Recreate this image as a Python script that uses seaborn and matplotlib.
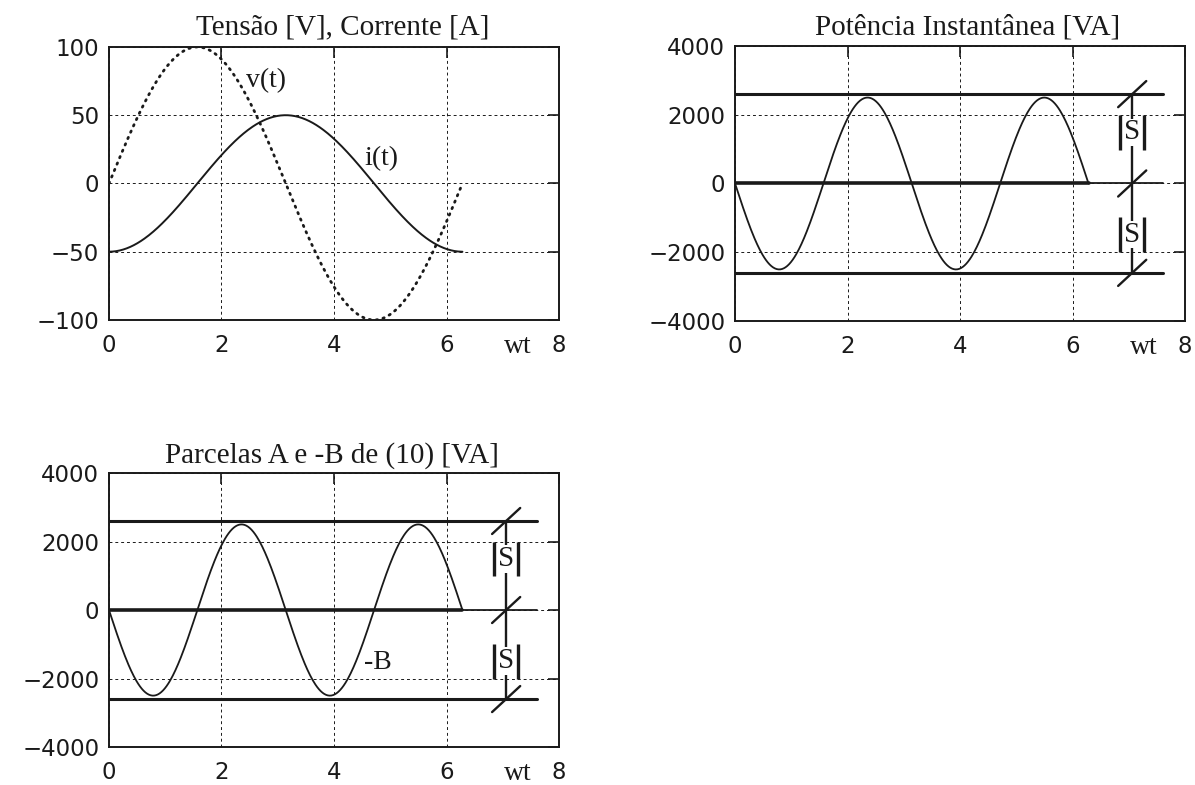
import numpy as np
import pandas as pd
import matplotlib
matplotlib.use("Agg")
import matplotlib.pyplot as plt
import matplotlib.transforms as mtransforms
import seaborn as sns

# ---- data ----
V_PEAK = 100.0          # v(t) amplitude [V]
I_PEAK = 50.0           # i(t) amplitude [A]
P_PEAK = 2500.0         # instantaneous power amplitude [VA]
S_MAG = 2600.0          # |S| reference level [VA]
S_LINE_END = 7.6        # horizontal reference lines extend to wt = 7.6
S_MARK_X = 7.06         # position of the |S| dimension marker

titles = ["Tensão [V], Corrente [A]", "Potência Instantânea [VA]",
          "Parcelas A e -B de (10) [VA]"]
title_x = [4.15, 4.14, 3.97]
title_gap_px = [13, 12, 10]
xticks = [0, 2, 4, 6, 8]
yticks_vi = [-100, -50, 0, 50, 100]
yticks_p = [-4000, -2000, 0, 2000, 4000]

wt = np.linspace(0, 2 * np.pi, 400)
v = V_PEAK * np.sin(wt)
i = -I_PEAK * np.cos(wt)
p = -P_PEAK * np.sin(2 * wt)
df1 = pd.DataFrame({"wt": wt, "v": v, "i": i})
df2 = pd.DataFrame({"wt": wt, "p": p, "zero": np.zeros_like(wt)})

sns.set_style("white")
plt.rcParams["font.family"] = ["DejaVu Sans"]
plt.rcParams["axes.unicode_minus"] = True

fig = plt.figure(figsize=(11.95, 7.85), dpi=100)
ax1 = fig.add_axes([0.0912, 0.5924, 0.3766, 0.3478])
ax2 = fig.add_axes([0.6151, 0.5911, 0.3766, 0.3503])
ax3 = fig.add_axes([0.0912, 0.0484, 0.3766, 0.3490])

SERIF = ["Liberation Serif", "DejaVu Serif"]
INK = "#1a1a1a"


def style(ax, yticks, k):
    ax.set_xlim(0, 8)
    ax.set_ylim(yticks[0], yticks[-1])
    ax.set_xticks(xticks)
    ax.set_yticks(yticks)
    ax.set_xlabel("")
    ax.set_ylabel("")
    ax.grid(True, color=INK, linestyle=(0, (3, 3)), linewidth=0.7)
    ax.tick_params(direction="in", length=8, width=1.2, top=True, right=True,
                   labelsize=16.5, colors=INK)
    ax.tick_params(axis="x", pad=10)
    ax.tick_params(axis="y", pad=7)
    for s in ax.spines.values():
        s.set_color(INK)
        s.set_linewidth(1.4)
    trans_top = mtransforms.blended_transform_factory(ax.transData, ax.transAxes)
    off = mtransforms.ScaledTranslation(0, title_gap_px[k] / 100.0, fig.dpi_scale_trans)
    ax.text(title_x[k], 1.0, titles[k], transform=trans_top + off, ha="center",
            va="baseline", fontsize=21, family=SERIF, color=INK)
    off2 = mtransforms.ScaledTranslation(0, -33 / 100.0, fig.dpi_scale_trans)
    ax.text(7.27, 0.0, "wt", transform=trans_top + off2, ha="center",
            va="baseline", fontsize=20, family=SERIF, color=INK)
    if ax.get_legend():
        ax.get_legend().remove()


# ---- panel 1 ----
sns.lineplot(data=df1, x="wt", y="v", ax=ax1, color=INK,
             linewidth=2.0, linestyle=(0, (0.5, 2.0)), dash_capstyle="round")
sns.lineplot(data=df1, x="wt", y="i", ax=ax1, color=INK, linewidth=1.4)
style(ax1, yticks_vi, 0)
ax1.text(2.79, 75, "v(t)", fontsize=20, family=SERIF, ha="center", va="center",
         color=INK)
ax1.text(4.85, 18, "i(t)", fontsize=20, family=SERIF, ha="center", va="center",
         color=INK)


def power_panel(ax, k, label_b):
    sns.lineplot(data=df2, x="wt", y="p", ax=ax, color=INK, linewidth=1.3)
    ax.plot([0, S_LINE_END], [0, 0], color=INK, linewidth=1.3)
    sns.lineplot(data=df2, x="wt", y="zero", ax=ax, color=INK, linewidth=2.6)
    for lvl in (S_MAG, -S_MAG):
        ax.plot([0, S_LINE_END], [lvl, lvl], color=INK, linewidth=2.2)
    # dimension marker
    ax.plot([S_MARK_X, S_MARK_X], [-S_MAG, S_MAG], color=INK, linewidth=1.7)
    for lvl in (S_MAG, 0, -S_MAG):
        ax.plot([S_MARK_X - 0.25, S_MARK_X + 0.25], [lvl - 380, lvl + 380],
                color=INK, linewidth=1.7)
    for lvl in (1490, -1490):
        ax.text(S_MARK_X, lvl, "S", fontsize=21, family=SERIF, ha="center",
                va="center", color=INK,
                bbox=dict(facecolor="white", edgecolor="none", pad=0.5))
        for dx in (-0.21, 0.21):
            ax.plot([S_MARK_X + dx, S_MARK_X + dx], [lvl - 510, lvl + 510],
                    color=INK, linewidth=2.4, solid_capstyle="butt", zorder=4)
    style(ax, yticks_p, k)
    if label_b:
        ax.text(4.78, -1520, "-B", fontsize=20, family=SERIF, ha="center",
                va="center", color=INK)


power_panel(ax2, 1, False)
power_panel(ax3, 2, True)

fig.savefig("out.png", dpi=100, facecolor="white")
